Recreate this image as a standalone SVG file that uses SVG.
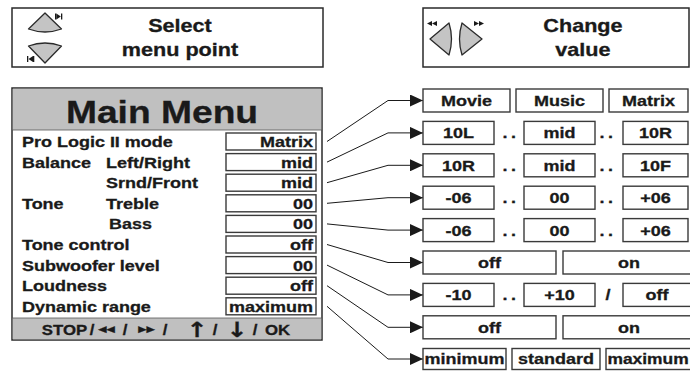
<svg xmlns="http://www.w3.org/2000/svg" width="690" height="371" viewBox="0 0 690 371">
  <style>
    .t { font-family: "Liberation Sans", Arial, sans-serif; font-weight: bold; fill: #1a1a1a; stroke: #1a1a1a; stroke-width: 0.3; }
    .sym { font-family: "DejaVu Sans", sans-serif; font-weight: bold; }
    .f15 { font-size: 15px; }
    .mid { text-anchor: middle; }
    .end { text-anchor: end; }
    .box { fill: #ffffff; stroke: #3a3a3a; stroke-width: 1.4; }
    .frame { fill: #ffffff; stroke: #2a2a2a; stroke-width: 1.5; }
    .band { fill: #c0c0c0; }
    .btn { fill: #c4c4c4; stroke: #2a2a2a; stroke-width: 1.3; stroke-linejoin: round; }
    .ico { fill: #1a1a1a; }
    .wire { fill: none; stroke: #1a1a1a; stroke-width: 1; marker-end: url(#ah); }
  </style>
  <defs>
    <marker id="ah" viewBox="0 0 13 12" refX="13" refY="6" markerWidth="13" markerHeight="12" markerUnits="userSpaceOnUse" orient="auto">
      <path d="M0,0 L13,6 L0,12 Z" fill="#1a1a1a"/>
    </marker>
  </defs>
  <rect width="690" height="371" fill="#ffffff"/>

  <!-- legend: select menu point -->
  <g id="legend-select">
    <rect class="frame" x="12" y="8" width="311" height="59"/>
    <path class="btn" d="M45,13 L28.5,29 Q45,35 61.5,29 Z"/>
    <rect class="ico" x="55" y="13.5" width="1.3" height="6"/>
    <polygon class="ico" points="56.3,13.5 60.8,16.5 56.3,19.5"/>
    <rect class="ico" x="61" y="13.5" width="1.3" height="6"/>
    <path class="btn" d="M28.5,46 Q45,40 61.5,46 L45,63 Z"/>
    <rect class="ico" x="27" y="56" width="1.3" height="6"/>
    <polygon class="ico" points="33,56 28.5,59 33,62"/>
    <rect class="ico" x="33" y="56" width="1.3" height="6"/>
    <g transform="scale(1.2 1)">
      <text class="t mid" x="150" y="32" font-size="18">Select</text>
      <text class="t mid" x="150" y="56" font-size="18">menu point</text>
    </g>
  </g>

  <!-- legend: change value -->
  <g id="legend-change">
    <rect class="frame" x="423" y="8" width="266" height="59"/>
    <path class="btn" d="M449,23 Q454,39 449,55 L430,39 Z"/>
    <path class="btn" d="M462,23 Q457,39 462,55 L482,39 Z"/>
    <polygon class="ico" points="427,23.5 432,21 432,26"/>
    <polygon class="ico" points="432,23.5 437,21 437,26"/>
    <polygon class="ico" points="474,21 479,23.5 474,26"/>
    <polygon class="ico" points="479,21 484,23.5 479,26"/>
    <g transform="scale(1.2 1)">
      <text class="t mid" x="485.8" y="32" font-size="18">Change</text>
      <text class="t mid" x="485.8" y="56" font-size="18">value</text>
    </g>
  </g>

  <!-- main menu panel -->
  <g id="main-menu">
    <rect class="frame" x="12" y="88" width="310" height="252"/>
    <rect class="band" x="12.8" y="88.8" width="308.4" height="41.2"/>
    <rect class="band" x="12.8" y="318" width="308.4" height="21.2"/>
    <line x1="12" y1="130" x2="322" y2="130" stroke="#555" stroke-width="0.8"/>
    <line x1="12" y1="318" x2="322" y2="318" stroke="#555" stroke-width="0.8"/>
    <rect class="box" x="226" y="133" width="90" height="17"/>
    <rect class="box" x="226" y="153.6" width="90" height="17"/>
    <rect class="box" x="226" y="174.2" width="90" height="17"/>
    <rect class="box" x="226" y="194.8" width="90" height="17"/>
    <rect class="box" x="226" y="215.4" width="90" height="17"/>
    <rect class="box" x="226" y="236" width="90" height="17"/>
    <rect class="box" x="226" y="256.6" width="90" height="17"/>
    <rect class="box" x="226" y="277.2" width="90" height="17"/>
    <rect class="box" x="226" y="297.8" width="90" height="17"/>
    <g transform="scale(1.2 1)">
      <text class="t mid" x="135" y="123" font-size="31" stroke-width="0.6">Main Menu</text>
      <g class="f15">
        <text class="t" x="18.33" y="147">Pro Logic II mode</text>
        <text class="t" x="18.33" y="167.6">Balance</text>
        <text class="t" x="88.33" y="167.6">Left/Right</text>
        <text class="t" x="88.33" y="188.2">Srnd/Front</text>
        <text class="t" x="18.33" y="208.8">Tone</text>
        <text class="t" x="88.33" y="208.8">Treble</text>
        <text class="t" x="90.83" y="229.4">Bass</text>
        <text class="t" x="18.33" y="250">Tone control</text>
        <text class="t" x="18.33" y="270.6">Subwoofer level</text>
        <text class="t" x="18.33" y="291.2">Loudness</text>
        <text class="t" x="18.33" y="311.8">Dynamic range</text>
        <text class="t end" x="260.8" y="147">Matrix</text>
        <text class="t end" x="260.8" y="167.6">mid</text>
        <text class="t end" x="260.8" y="188.2">mid</text>
        <text class="t end" x="260.8" y="208.8">00</text>
        <text class="t end" x="260.8" y="229.4">00</text>
        <text class="t end" x="260.8" y="250">off</text>
        <text class="t end" x="260.8" y="270.6">00</text>
        <text class="t end" x="260.8" y="291.2">off</text>
        <text class="t end" x="260.8" y="311.8">maximum</text>
      </g>
      <text class="t mid" y="335" font-size="14"><tspan x="53.75">STOP</tspan><tspan x="76.67">/</tspan><tspan class="sym" x="88.75" font-size="9" dy="-3">◀◀</tspan><tspan x="104.17" dy="3">/</tspan><tspan class="sym" x="122.08" font-size="9" dy="-3">▶▶</tspan><tspan x="137.5" dy="3">/</tspan><tspan class="sym" x="164.17" font-size="21" dy="2">↑</tspan><tspan x="179.17" dy="-2">/</tspan><tspan class="sym" x="197.5" font-size="21" dy="2">↓</tspan><tspan x="212.5" dy="-2">/</tspan><tspan x="231.25">OK</tspan></text>
    </g>
  </g>

  <!-- connectors from menu rows to option rows -->
  <g id="connectors">
    <path class="wire" d="M327,141.5 L388,100.5 L423,100.5"/>
    <path class="wire" d="M327,162.1 L388,132.9 L423,132.9"/>
    <path class="wire" d="M327,182.7 L388,165.3 L423,165.3"/>
    <path class="wire" d="M327,203.3 L388,197.7 L423,197.7"/>
    <path class="wire" d="M327,223.9 L388,230.1 L423,230.1"/>
    <path class="wire" d="M327,244.5 L388,262.5 L423,262.5"/>
    <path class="wire" d="M327,265.1 L388,294.9 L423,294.9"/>
    <path class="wire" d="M327,285.7 L388,327.3 L423,327.3"/>
    <path class="wire" d="M327,306.3 L388,359 L423,359"/>
  </g>

  <!-- option rows -->
  <g id="opt-mode">
    <rect class="box" x="423" y="89" width="87" height="23"/>
    <rect class="box" x="516" y="89" width="87" height="23"/>
    <rect class="box" x="609" y="89" width="79" height="23"/>
    <g transform="scale(1.2 1)" class="f15">
      <text class="t mid" x="388.75" y="106">Movie</text>
      <text class="t mid" x="466.25" y="106">Music</text>
      <text class="t mid" x="540.42" y="106">Matrix</text>
    </g>
  </g>

  <g id="opt-balance-lr">
    <rect class="box" x="423" y="121.4" width="71" height="23"/>
    <rect class="box" x="524" y="121.4" width="71" height="23"/>
    <rect class="box" x="623" y="121.4" width="65" height="23"/>
    <g transform="scale(1.2 1)" class="f15">
      <text class="t mid" x="382.08" y="138.4">10L</text>
      <text class="t mid" x="425.83" y="138.4" letter-spacing="3">..</text>
      <text class="t mid" x="466.25" y="138.4">mid</text>
      <text class="t mid" x="506.67" y="138.4" letter-spacing="3">..</text>
      <text class="t mid" x="546.25" y="138.4">10R</text>
    </g>
  </g>

  <g id="opt-balance-sf">
    <rect class="box" x="423" y="153.8" width="71" height="23"/>
    <rect class="box" x="524" y="153.8" width="71" height="23"/>
    <rect class="box" x="623" y="153.8" width="65" height="23"/>
    <g transform="scale(1.2 1)" class="f15">
      <text class="t mid" x="382.08" y="170.8">10R</text>
      <text class="t mid" x="425.83" y="170.8" letter-spacing="3">..</text>
      <text class="t mid" x="466.25" y="170.8">mid</text>
      <text class="t mid" x="506.67" y="170.8" letter-spacing="3">..</text>
      <text class="t mid" x="546.25" y="170.8">10F</text>
    </g>
  </g>

  <g id="opt-treble">
    <rect class="box" x="423" y="186.2" width="71" height="23"/>
    <rect class="box" x="524" y="186.2" width="71" height="23"/>
    <rect class="box" x="623" y="186.2" width="65" height="23"/>
    <g transform="scale(1.2 1)" class="f15">
      <text class="t mid" x="382.08" y="203.2">-06</text>
      <text class="t mid" x="425.83" y="203.2" letter-spacing="3">..</text>
      <text class="t mid" x="466.25" y="203.2">00</text>
      <text class="t mid" x="506.67" y="203.2" letter-spacing="3">..</text>
      <text class="t mid" x="546.25" y="203.2">+06</text>
    </g>
  </g>

  <g id="opt-bass">
    <rect class="box" x="423" y="218.6" width="71" height="23"/>
    <rect class="box" x="524" y="218.6" width="71" height="23"/>
    <rect class="box" x="623" y="218.6" width="65" height="23"/>
    <g transform="scale(1.2 1)" class="f15">
      <text class="t mid" x="382.08" y="235.6">-06</text>
      <text class="t mid" x="425.83" y="235.6" letter-spacing="3">..</text>
      <text class="t mid" x="466.25" y="235.6">00</text>
      <text class="t mid" x="506.67" y="235.6" letter-spacing="3">..</text>
      <text class="t mid" x="546.25" y="235.6">+06</text>
    </g>
  </g>

  <g id="opt-tone-control">
    <rect class="box" x="423" y="251" width="133" height="23"/>
    <rect class="box" x="563" y="251" width="130" height="23"/>
    <g transform="scale(1.2 1)" class="f15">
      <text class="t mid" x="407.92" y="268">off</text>
      <text class="t mid" x="524.17" y="268">on</text>
    </g>
  </g>

  <g id="opt-subwoofer">
    <rect class="box" x="423" y="283.4" width="71" height="23"/>
    <rect class="box" x="524" y="283.4" width="71" height="23"/>
    <rect class="box" x="623" y="283.4" width="70" height="23"/>
    <g transform="scale(1.2 1)" class="f15">
      <text class="t mid" x="382.08" y="300.4">-10</text>
      <text class="t mid" x="425.83" y="300.4" letter-spacing="3">..</text>
      <text class="t mid" x="466.25" y="300.4">+10</text>
      <text class="t mid" x="506.67" y="300.4">/</text>
      <text class="t mid" x="547.5" y="300.4">off</text>
    </g>
  </g>

  <g id="opt-loudness">
    <rect class="box" x="423" y="315.8" width="133" height="23"/>
    <rect class="box" x="563" y="315.8" width="130" height="23"/>
    <g transform="scale(1.2 1)" class="f15">
      <text class="t mid" x="407.92" y="332.8">off</text>
      <text class="t mid" x="524.17" y="332.8">on</text>
    </g>
  </g>

  <g id="opt-dynamic">
    <rect class="box" x="423" y="348.5" width="83" height="21"/>
    <rect class="box" x="512" y="348.5" width="88" height="21"/>
    <rect class="box" x="606" y="348.5" width="90" height="21"/>
    <g transform="scale(1.2 1)" class="f15">
      <text class="t mid" x="387.08" y="364.5">minimum</text>
      <text class="t mid" x="463.33" y="364.5">standard</text>
      <text class="t" x="506.25" y="364.5" font-size="14.5">maximum</text>
    </g>
  </g>
</svg>
